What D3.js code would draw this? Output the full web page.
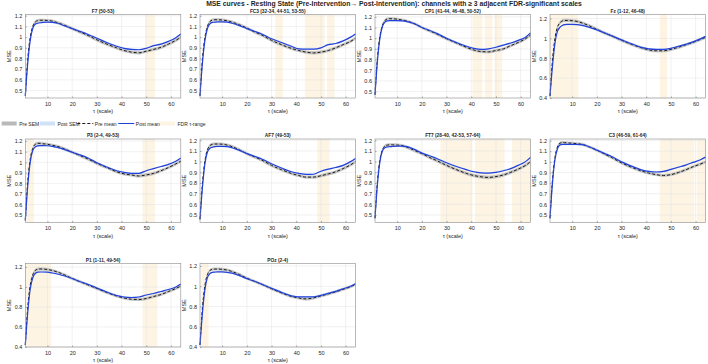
<!DOCTYPE html>
<html>
<head>
<meta charset="utf-8">
<script src="https://cdn.jsdelivr.net/npm/d3@7"></script>
<style>
body{margin:0;background:#fff}
svg text{font-family:"Liberation Sans",Arial,Helvetica,sans-serif;fill:#262626}
</style>
</head>
<body>
<svg id="chart" width="708" height="364"></svg>
<script>
/* MSE curves, pre vs post */

// channels in plot order
var channels = ['F7', 'FC3', 'CP1', 'Fz', 'P3', 'AF7', 'FT7', 'C3', 'P1', 'POz']
var fdrRanges = [
    [[50,53]],
    [[32,34],[44,51],[53,55]],
    [[41,44],[46,48],[50,52]],
    [[1,12],[46,48]],
    [[2,4],[49,53]],
    [[49,53]],
    [[28,40],[42,53],[57,64]],
    [[46,59],[61,64]],
    [[1,11],[49,54]],
    [[2,4]]
]
var yLimits = [[0.43,1.212],[0.43,1.212],[0.44,1.222],[0.40,1.24],[0.43,1.22],
               [0.43,1.212],[0.43,1.212],[0.43,1.215],[0.40,1.235],[0.40,1.225]]
var yTicksFine = [0.5,0.6,0.7,0.8,0.9,1,1.1,1.2]
var yTicksCoarse = [0.4,0.6,0.8,1,1.2]
var coarsePanels = ['Fz','P1','POz']
var xTicks = [10,20,30,40,50,60]

// scales
var tau = [1,2,3,4,5,6,7,8,10,12,14,17,20,23,26,30,34,38,41,44,47,50,53,56,59,62,64]
var preMean = [
    [0.45,0.80,1.00,1.10,1.14,1.155,1.158,1.158,1.156,1.15,1.135,1.11,1.08,1.05,1.02,0.975,0.935,0.90,0.875,0.86,0.853,0.868,0.885,0.905,0.935,0.97,1.00],
    [0.45,0.80,1.00,1.10,1.145,1.16,1.163,1.163,1.16,1.153,1.14,1.115,1.085,1.05,1.02,0.97,0.93,0.895,0.875,0.86,0.852,0.86,0.875,0.90,0.93,0.96,0.99],
    [0.47,0.82,1.02,1.12,1.165,1.18,1.183,1.182,1.178,1.17,1.16,1.135,1.10,1.07,1.04,0.995,0.955,0.915,0.89,0.875,0.872,0.885,0.90,0.93,0.96,0.995,1.03],
    [0.42,0.78,1.00,1.11,1.155,1.175,1.18,1.18,1.177,1.17,1.155,1.125,1.09,1.055,1.025,0.98,0.94,0.905,0.885,0.875,0.875,0.89,0.91,0.935,0.96,0.99,1.01],
    [0.45,0.82,1.03,1.13,1.17,1.18,1.178,1.175,1.17,1.16,1.15,1.125,1.095,1.065,1.035,0.99,0.95,0.91,0.89,0.88,0.87,0.88,0.895,0.92,0.95,0.985,1.01],
    [0.46,0.80,1.01,1.11,1.15,1.162,1.165,1.165,1.163,1.155,1.14,1.11,1.075,1.045,1.015,0.965,0.925,0.89,0.87,0.855,0.855,0.868,0.885,0.905,0.935,0.97,1.00],
    [0.47,0.82,1.02,1.11,1.145,1.155,1.157,1.157,1.155,1.15,1.135,1.105,1.075,1.04,1.01,0.965,0.925,0.89,0.87,0.858,0.852,0.86,0.875,0.90,0.93,0.965,1.00],
    [0.47,0.83,1.04,1.14,1.175,1.182,1.18,1.178,1.175,1.17,1.165,1.14,1.11,1.075,1.04,0.99,0.95,0.915,0.895,0.88,0.872,0.88,0.90,0.925,0.955,0.98,1.00],
    [0.42,0.80,1.02,1.12,1.165,1.178,1.18,1.18,1.175,1.165,1.15,1.12,1.085,1.055,1.025,0.985,0.945,0.91,0.89,0.878,0.875,0.885,0.905,0.925,0.955,0.985,1.01],
    [0.42,0.79,1.01,1.115,1.155,1.168,1.17,1.17,1.167,1.16,1.145,1.115,1.08,1.05,1.02,0.975,0.935,0.90,0.885,0.875,0.885,0.905,0.925,0.945,0.97,0.995,1.02]
]
var postMean = [
    [0.45,0.76,0.97,1.08,1.12,1.13,1.135,1.138,1.14,1.138,1.13,1.105,1.08,1.055,1.03,0.99,0.95,0.915,0.895,0.885,0.882,0.895,0.92,0.935,0.96,0.995,1.03],
    [0.45,0.76,0.97,1.08,1.125,1.138,1.14,1.142,1.142,1.14,1.13,1.108,1.08,1.055,1.03,0.985,0.95,0.915,0.89,0.888,0.888,0.90,0.93,0.94,0.965,1.00,1.03],
    [0.47,0.79,1.00,1.11,1.15,1.162,1.165,1.165,1.165,1.162,1.155,1.135,1.10,1.075,1.045,1.00,0.96,0.925,0.905,0.895,0.90,0.915,0.935,0.955,0.98,1.01,1.05],
    [0.42,0.72,0.95,1.07,1.11,1.13,1.138,1.14,1.14,1.138,1.13,1.11,1.085,1.055,1.025,0.985,0.945,0.91,0.895,0.89,0.89,0.90,0.92,0.94,0.965,0.995,1.02],
    [0.45,0.78,1.00,1.11,1.145,1.155,1.158,1.158,1.156,1.15,1.14,1.12,1.095,1.07,1.045,0.995,0.955,0.92,0.905,0.895,0.895,0.92,0.94,0.96,0.98,1.01,1.04],
    [0.46,0.76,0.98,1.09,1.125,1.135,1.14,1.142,1.142,1.14,1.13,1.105,1.075,1.05,1.025,0.98,0.94,0.905,0.89,0.88,0.882,0.91,0.93,0.945,0.965,1.00,1.03],
    [0.47,0.79,1.00,1.10,1.13,1.138,1.14,1.142,1.145,1.145,1.14,1.115,1.08,1.055,1.03,0.99,0.955,0.925,0.905,0.895,0.892,0.90,0.915,0.935,0.965,1.00,1.04],
    [0.47,0.80,1.02,1.12,1.158,1.165,1.165,1.165,1.165,1.165,1.163,1.14,1.11,1.08,1.05,1.00,0.96,0.925,0.91,0.905,0.91,0.93,0.95,0.97,0.995,1.02,1.045],
    [0.42,0.75,0.98,1.09,1.135,1.148,1.15,1.15,1.148,1.14,1.13,1.11,1.085,1.055,1.03,0.99,0.95,0.915,0.90,0.895,0.90,0.92,0.935,0.955,0.975,1.00,1.03],
    [0.42,0.74,0.97,1.085,1.125,1.138,1.14,1.142,1.142,1.138,1.13,1.105,1.075,1.05,1.02,0.98,0.94,0.905,0.895,0.895,0.895,0.91,0.93,0.95,0.975,1.00,1.025]
]
var preSem = [0.015,0.015,0.014,0.016,0.015,0.015,0.016,0.014,0.015,0.015]
var postSem = [0.008,0.008,0.008,0.009,0.008,0.008,0.008,0.008,0.008,0.008]

var legendLabels = ['Pre SEM', 'Post SEM', 'Pre mean', 'Post mean', 'FDR \u03c4-range']

// layout
var colLeft = [25.3, 200, 375, 550]
var rowTop = [14.5, 139, 263.5]
var pw = 155.5, ph = 83.5

var colPreBand = '#b9b9b9', colPostBand = '#cfe2f6', colFdr = '#fdf4e3'
var colPost = '#2340d8'

var svg = d3.select('#chart')

svg.append('text')
    .attr('x', 394).attr('y', 6.3)
    .attr('text-anchor', 'middle')
    .attr('font-size', '6.8px').attr('font-weight', 'bold')
    .text('MSE curves - Resting State (Pre-Intervention\u2192 Post-Intervention): channels with \u2265 3 adjacent FDR-significant scales')

drawPanel = function(i){
    var left = colLeft[i % 4], top = rowTop[Math.floor(i / 4)]
    var g = svg.append('g').attr('transform', 'translate(' + left + ',' + top + ')')
    var x = d3.scaleLinear().domain([1, 64]).range([0, pw])
    var y = d3.scaleLinear().domain(yLimits[i]).range([ph, 0])
    var yTicks = coarsePanels.indexOf(channels[i]) >= 0 ? yTicksCoarse : yTicksFine

    g.append('rect').attr('width', pw).attr('height', ph).attr('fill', '#fff')

    // FDR shading
    fdrRanges[i].forEach(function(r){
        var a = Math.max(1, r[0] - 0.5), b = Math.min(64, r[1] + 0.5)
        g.append('rect')
            .attr('x', x(a)).attr('y', 0)
            .attr('width', x(b) - x(a)).attr('height', ph)
            .attr('fill', colFdr)
    })

    // grid
    g.selectAll('.gx').data(xTicks).enter().append('line')
        .attr('x1', d => x(d)).attr('x2', d => x(d))
        .attr('y1', 0).attr('y2', ph)
        .attr('stroke', '#e3e3e3').attr('stroke-width', 0.5)
    g.selectAll('.gy').data(yTicks).enter().append('line')
        .attr('x1', 0).attr('x2', pw)
        .attr('y1', d => y(d)).attr('y2', d => y(d))
        .attr('stroke', '#e3e3e3').attr('stroke-width', 0.5)

    var pts = tau.map(function(t, k){ return {t: t, pre: preMean[i][k], post: postMean[i][k]} })

    var preBand = d3.area().x(d => x(d.t))
        .y0(d => y(d.pre - preSem[i])).y1(d => y(d.pre + preSem[i]))
        .curve(d3.curveMonotoneX)
    var postBand = d3.area().x(d => x(d.t))
        .y0(d => y(d.post - postSem[i])).y1(d => y(d.post + postSem[i]))
        .curve(d3.curveMonotoneX)
    g.append('path').datum(pts).attr('d', preBand).attr('fill', colPreBand).attr('opacity', 0.85)
    g.append('path').datum(pts).attr('d', postBand).attr('fill', colPostBand).attr('opacity', 0.8)

    var preLine = d3.line().x(d => x(d.t)).y(d => y(d.pre)).curve(d3.curveMonotoneX)
    var postLine = d3.line().x(d => x(d.t)).y(d => y(d.post)).curve(d3.curveMonotoneX)
    g.append('path').datum(pts).attr('d', preLine)
        .attr('fill', 'none').attr('stroke', '#1a1a1a')
        .attr('stroke-width', 1).attr('stroke-dasharray', '3,2')
    g.append('path').datum(pts).attr('d', postLine)
        .attr('fill', 'none').attr('stroke', colPost).attr('stroke-width', 1.2)

    // axes
    var xAxis = d3.axisBottom(x).tickValues(xTicks).tickSize(-1.5).tickPadding(4)
    var yAxis = d3.axisLeft(y).tickValues(yTicks).tickSize(-1.5).tickPadding(3)
        .tickFormat(d => String(+d.toFixed(1)))
    var gx = g.append('g').attr('transform', 'translate(0,' + ph + ')').call(xAxis)
    var gy = g.append('g').call(yAxis)
    ;[gx, gy].forEach(function(a){
        a.select('.domain').remove()
        a.selectAll('line').attr('stroke', '#555').attr('stroke-width', 0.5)
        a.selectAll('text').attr('font-size', '5.5px').attr('fill', '#333')
    })
    g.append('rect').attr('width', pw).attr('height', ph)
        .attr('fill', 'none').attr('stroke', '#8a8a8a').attr('stroke-width', 0.6)

    g.append('text').attr('x', pw / 2).attr('y', -2)
        .attr('text-anchor', 'middle').attr('font-size', '4.8px').attr('font-weight', 'bold')
        .text(channels[i] + '  (' + fdrRanges[i].map(r => r[0] + '-' + r[1]).join(', ') + ')')
    g.append('text').attr('x', pw / 2).attr('y', ph + 15)
        .attr('text-anchor', 'middle').attr('font-size', '5.5px').attr('fill', '#333')
        .text('\u03c4 (scale)')
    g.append('text')
        .attr('transform', 'translate(-14,' + (ph / 2) + ') rotate(-90)')
        .attr('text-anchor', 'middle').attr('font-size', '5.5px').attr('fill', '#333')
        .text('MSE')
}

for(i = 0; i < channels.length; i++){
    drawPanel(i)
}

// legend row under first row
var lg = svg.append('g').attr('transform', 'translate(0,123.5)')
var lx = [1.7, 40, 77.3, 118.3, 160]
legendLabels.forEach(function(lab, k){
    var gg = lg.append('g').attr('transform', 'translate(' + lx[k] + ',0)')
    if(k == 0 || k == 1 || k == 4){
        gg.append('rect').attr('x', 0).attr('y', -2).attr('width', 15).attr('height', 4)
            .attr('fill', k == 0 ? colPreBand : (k == 1 ? colPostBand : colFdr))
    }else{
        gg.append('line').attr('x1', 0).attr('x2', 16).attr('y1', 0).attr('y2', 0)
            .attr('stroke', k == 2 ? '#1a1a1a' : colPost)
            .attr('stroke-width', 1)
            .attr('stroke-dasharray', k == 2 ? '3,2' : null)
    }
    gg.append('text').attr('x', 17.5).attr('y', 2)
        .attr('font-size', '5px').attr('fill', '#333')
        .text(lab)
})
</script>
</body>
</html>
